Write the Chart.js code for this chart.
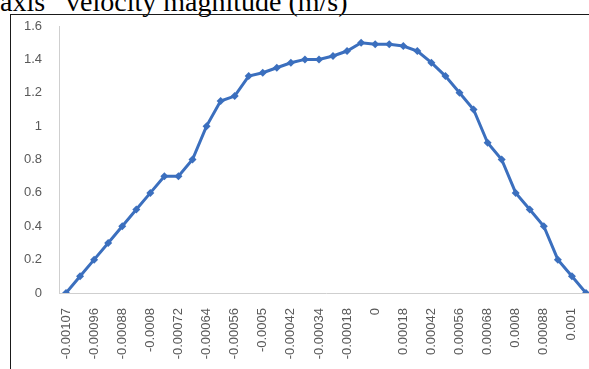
<!DOCTYPE html>
<html>
<head>
<meta charset="utf-8">
<script src="https://cdn.jsdelivr.net/npm/chart.js@4/dist/chart.umd.min.js"></script>
<style>
  html, body { margin: 0; padding: 0; background: #fff; overflow: hidden; width: 589px; height: 369px; }
  #heading {
    position: absolute; left: 0; top: 2px; line-height: 0; white-space: pre;
    font-family: "Liberation Serif", "Times New Roman", serif; font-size: 28px; color: #000;
  }
  #frame {
    position: absolute; left: 10px; top: 14px; width: 700px; height: 500px;
    border-left: 1px solid #1a1a1a; border-top: 1px solid #1a1a1a;
  }
  #chart { position: absolute; left: 0; top: 0; }
</style>
</head>
<body>
<div id="heading">axis   velocity magnitude (m/s)</div>
<div id="frame"></div>
<canvas id="chart" width="600" height="369"></canvas>
<script>
// Velocity magnitude sampled across the section (m/s)
const velocity = [
  0, 0.1, 0.2, 0.3, 0.4, 0.5, 0.6, 0.7, 0.7, 0.8,
  1.0, 1.15, 1.18, 1.3, 1.32, 1.35, 1.38, 1.4, 1.4,
  1.42, 1.45, 1.5, 1.49, 1.49, 1.48, 1.45, 1.38, 1.3, 1.2,
  1.1, 0.9, 0.8, 0.6, 0.5, 0.4, 0.2, 0.1, 0
];

// Position labels, shown on every second sample
const tickLabels = [
  '-0.00107', '-0.00096', '-0.00088', '-0.0008', '-0.00072', '-0.00064',
  '-0.00056', '-0.0005', '-0.00042', '-0.00034', '-0.00018', '0',
  '0.00018', '0.00042', '0.00056', '0.00068', '0.0008', '0.00088', '0.001'
];

// One category per sample; even ones carry a position label
const categories = velocity.map((_, i) => (i % 2 === 0 ? tickLabels[i / 2] : ''));

const yTicks = [0, 0.2, 0.4, 0.6, 0.8, 1, 1.2, 1.4, 1.6];

const blue = '#3b6fbe';
const tickFont = { family: 'Liberation Sans, Arial, sans-serif', size: 13 };

new Chart(document.getElementById('chart'), {
  type: 'line',
  data: {
    labels: categories,
    datasets: [{
      data: velocity,
      borderColor: blue,
      backgroundColor: blue,
      borderWidth: 3,
      pointStyle: 'rectRot',
      pointRadius: 4,
      pointBorderWidth: 0,
      pointBackgroundColor: blue,
      tension: 0
    }]
  },
  options: {
    responsive: false,
    animation: false,
    devicePixelRatio: 1,
    layout: { padding: { left: 0, top: 26, right: 7, bottom: 0 } },
    plugins: { legend: { display: false }, tooltip: { enabled: false } },
    scales: {
      x: {
        type: 'category',
        offset: true,
        grid: { display: false, drawTicks: false },
        border: { display: true, color: '#cfcfcf', width: 1 },
        ticks: {
          autoSkip: false,
          minRotation: 90,
          maxRotation: 90,
          padding: 15,
          color: '#595959',
          font: tickFont
        },
        afterFit: (scale) => {
          scale.height = 76;
          scale.paddingLeft = 0;
          scale.paddingRight = 0;
        }
      },
      y: {
        min: 0,
        max: 1.6,
        grid: { display: false, drawTicks: false },
        border: { display: true, color: '#cfcfcf', width: 1 },
        afterBuildTicks: (scale) => { scale.ticks = yTicks.map(v => ({ value: v })); },
        ticks: {
          padding: 17,
          color: '#595959',
          font: tickFont,
          callback: (v) => String(Math.round(v * 10) / 10)
        },
        afterFit: (scale) => {
          scale.width = 59;
          scale.paddingTop = 0;
          scale.paddingBottom = 0;
        }
      }
    }
  }
});
</script>
</body>
</html>
